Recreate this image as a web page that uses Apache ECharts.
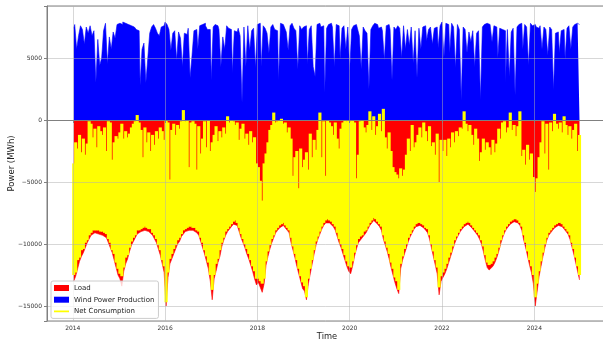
<!DOCTYPE html>
<html><head><meta charset="utf-8">
<script src="https://cdn.jsdelivr.net/npm/echarts@6/dist/echarts.min.js"></script>
<style>html,body{margin:0;padding:0;background:#fff}#c{width:603px;height:347px}</style>
</head><body><div id="c"></div>
<script>
// Time slots: 24 per year (semi-monthly), 2014 .. 2024
const startYear = 2014;
const slotsPerYear = 24;
const seriesNames = ['Load', 'Wind Power Production', 'Net Consumption'];

// Highest wind production per slot (MWh)
const windMax = [
 7400,7700,5700,6800,7600,7300,6100,7500,7000,7600,6800,7200,3000,6500,4400,5000,7200,7800,4500,6700,5700,7100,6600,7700,
 7800,7700,7900,7800,7700,7800,7600,7500,7400,7300,7200,2800,5700,6200,3000,5000,7000,7500,7700,7400,7000,6800,7500,7600,
 7900,7700,7300,5600,7000,7200,4800,7100,6600,4300,7000,6900,7400,3400,5200,7200,7300,5700,7600,7700,7800,7600,7300,7300,
 3200,7500,7700,7600,7300,4300,6700,5700,7600,7400,7300,3800,7200,7100,7400,6800,1400,7500,4300,7600,5600,7200,7400,4200,
 7700,7800,4300,7600,7400,7000,5400,7500,7700,7300,7200,3200,7800,7700,7500,7100,5600,7600,7800,7400,7200,4100,7600,7300,
 7500,7600,4500,7300,7600,4300,3500,7700,7800,7500,7600,2200,7400,7700,7800,7500,4300,7700,7600,4900,7400,7600,5700,7500,
 4000,7300,7600,7700,7400,6800,4100,7500,7200,7000,2500,7300,7600,7800,7700,7400,7500,7200,4800,7600,7700,7300,3200,7500,
 7300,7600,7400,5000,7600,5700,7300,6000,7500,4600,7200,3400,7400,5700,7500,7600,6400,7300,7500,6100,7400,7500,5800,7600,
 7900,5000,7800,7700,5400,7800,7500,4200,7700,7300,1600,7500,7300,5400,7100,6300,7200,4300,7000,7200,1600,7500,7700,7800,
 7700,7800,6300,7600,7500,5000,7400,7300,7200,3000,7300,3500,7100,7400,2000,7500,7700,7800,5700,7700,7500,4400,7800,7600,
 7700,7500,7400,7600,5700,7500,7300,5200,7500,7300,2400,7000,7100,5400,7200,7300,4900,7400,7600,5700,7500,7700,7800,7700
];

// Highest load per slot (MWh), drawn downward
const loadMax = [
 13000,12600,12000,11400,11000,10700,10300,9900,9600,9300,9200,9100,9100,9200,9200,9300,9300,9500,9900,10300,10700,11300,11900,12500,
 12800,13400,12200,11600,11200,10600,10100,9800,9500,9200,9100,9000,8900,8900,8900,9000,9100,9300,9600,9900,10400,10900,11600,12300,
 15000,12700,11600,11200,10800,10400,10000,9800,9400,9200,9000,8900,8900,8800,8900,9000,9100,9300,9800,10300,10800,11400,12000,13000,
 14500,12800,12200,11500,11000,10200,9700,9300,9000,8800,8600,8400,8300,8500,9000,9500,9900,10300,10800,11200,11700,12200,12800,13300,
 13100,13500,13900,13200,11700,11000,10400,9900,9500,9100,8900,8700,8600,8500,8700,8900,9100,9900,10500,11100,11800,12400,13000,13600,
 13800,14500,13200,12400,11600,10800,10100,9600,9200,8800,8500,8300,8200,8300,8400,8600,8900,9400,9900,10300,10800,11300,11800,12200,
 12400,11800,11000,10400,9900,9700,9500,9300,9100,8800,8500,8300,8100,8200,8400,8600,8900,9600,10100,10600,11200,11900,12500,13100,
 13600,14000,12000,11300,10800,10300,9800,9400,9100,8800,8600,8500,8500,8600,8700,8900,9100,9600,10300,11000,11700,12400,14100,13000,
 12700,12400,12000,11500,11000,10500,10000,9600,9300,9000,8800,8600,8500,8400,8500,8700,8900,9100,9300,9600,10000,10600,11300,11900,
 12100,12000,11800,11500,11100,10600,10000,9500,9100,8800,8600,8400,8300,8200,8200,8300,8500,8900,9700,10300,11000,11700,12300,13200,
 15000,13800,12600,11800,11000,10300,9700,9300,9100,8900,8700,8600,8500,8500,8600,8800,9000,9200,9600,10200,10800,11500,12200,12900
];

// Net consumption: top of the yellow band per slot (MWh)
const netHigh = [
 -3500,-1800,-2300,-1200,-2600,-1500,-2800,-1900,-100,-300,-1400,-700,-2200,-500,-900,-1200,-600,-2500,-100,-200,-3200,-1800,-1300,-1500,
 -1000,-300,-1500,-900,-1400,-1100,-600,-300,-100,400,-200,-800,-3000,-600,-1800,-1000,-2500,-1200,-2000,-900,-1500,-600,-900,-1600,
 0,-200,-4800,-800,-300,-1200,-400,-700,-100,800,-100,0,-3800,-200,-100,-300,-4000,-500,-2700,-1500,-100,-2200,0,-2500,
 -1800,-1200,-500,-1700,-900,-1400,-600,-1100,300,-200,0,-100,-400,-200,-1600,-700,-300,-1500,-1100,-2000,-900,-1800,-1400,-3500,
 -3800,-4900,-6500,-3500,-2700,-1800,-800,-400,600,-200,-100,0,100,-300,-200,-1000,-600,-1500,-4500,-3000,-2500,-5500,-2300,-3800,
 -3200,-2600,-4000,-1100,-3000,-1600,-2400,-800,600,-3000,-100,-4500,0,-200,-500,-1200,-200,-1500,-2300,-700,-200,0,-100,0,
 -100,0,-200,-4700,-2800,-100,0,-600,-1000,-400,700,-800,300,-1200,-500,500,-900,900,-1400,-2300,-1000,-2500,-3800,-4200,
 -4400,-4700,-3900,-4500,-4000,-2800,-1500,-2500,-400,-2200,-1800,-1200,-600,-1400,-200,-900,-1700,-500,-2100,-1800,-2800,-1100,-5000,-1600,
 -2500,-1600,-2900,-1500,-2200,-1000,-1800,-900,-1300,-600,-700,700,-300,-900,-400,-1200,-2000,-700,-1500,-3300,-2600,-1500,-2400,-1800,
 -2200,-2800,-1600,-2600,-1900,-700,-1500,-200,-100,-1000,-600,600,-800,-400,-1300,-500,700,-2900,-2400,-3600,-2000,-3200,-2700,-4600,
 -5800,-4700,-3000,-1800,-100,-2700,-300,-4000,-200,-900,500,-300,-700,-200,-1000,300,-400,-1200,-500,-1500,-800,-300,-2500,-1200
];

// Net consumption: bottom of the yellow band per slot (MWh)
const netLow = [
 -12500,-12300,-11300,-11100,-10500,-10400,-9900,-9700,-9300,-9100,-8900,-8900,-8900,-8900,-9000,-9000,-9100,-9200,-9600,-9900,-10500,-10800,-11500,-12000,
 -12400,-12600,-11900,-11100,-10900,-10300,-9800,-9500,-9300,-8900,-8900,-8800,-8700,-8600,-8700,-8800,-8800,-9100,-9300,-9600,-10100,-10500,-11300,-11800,
 -14700,-12300,-11200,-10800,-10400,-10100,-9700,-9500,-9200,-8900,-8800,-8700,-8600,-8600,-8700,-8700,-8900,-9000,-9500,-9900,-10500,-11000,-11500,-12500,
 -13700,-12500,-11600,-11200,-10500,-9900,-9500,-9000,-8800,-8600,-8400,-8200,-8100,-8300,-8700,-9200,-9600,-10000,-10400,-10800,-11300,-11800,-12200,-12800,
 -12800,-13000,-13200,-12800,-11400,-10600,-10100,-9600,-9300,-8900,-8700,-8500,-8400,-8300,-8500,-8700,-8900,-9500,-10200,-10800,-11300,-12000,-12600,-13100,
 -13400,-14300,-12800,-12000,-11300,-10500,-9800,-9400,-9000,-8600,-8300,-8100,-8000,-8100,-8200,-8400,-8600,-9100,-9600,-10000,-10400,-10900,-11400,-11800,
 -11900,-11400,-10700,-10100,-9600,-9400,-9300,-9000,-8900,-8600,-8300,-8100,-7900,-8000,-8200,-8400,-8600,-9300,-9800,-10300,-10800,-11500,-12000,-12700,
 -13000,-13700,-11600,-11000,-10400,-10000,-9500,-9200,-8900,-8600,-8400,-8300,-8300,-8400,-8500,-8700,-8800,-9300,-10000,-10600,-11300,-11900,-13500,-12600,
 -12300,-12000,-11600,-11100,-10700,-10200,-9700,-9400,-9100,-8800,-8600,-8400,-8300,-8200,-8300,-8500,-8700,-8900,-9100,-9300,-9700,-10200,-10900,-11500,
 -11700,-11600,-11400,-11100,-10800,-10300,-9700,-9300,-8900,-8600,-8400,-8200,-8100,-8000,-8000,-8100,-8300,-8600,-9300,-9900,-10600,-11300,-11800,-12500,
 -14300,-13200,-12200,-11400,-10700,-10000,-9500,-9100,-8900,-8700,-8500,-8400,-8300,-8300,-8400,-8600,-8800,-9000,-9300,-9900,-10400,-11100,-11800,-12500
];

const slotWidth = 1 / slotsPerYear;
const slotTime = i => startYear + (i + 0.5) * slotWidth;

const loadData = loadMax.map((v, i) => [slotTime(i), -v]);
const windData = windMax.map((v, i) => [slotTime(i), v]);
const netData = netHigh.map((v, i) => [slotTime(i), v, netLow[i]]);

const FONT = 'DejaVu Sans';
const chart = echarts.init(document.getElementById('c'), null, {renderer: 'canvas'});
chart.setOption({
  animation: false,
  backgroundColor: '#ffffff',
  grid: {left: 47, top: 6, width: 560, height: 315, show: true, borderColor: '#808080', borderWidth: 1,
         containLabel: false, outerBoundsMode: 'none'},
  xAxis: {
    type: 'value', min: 2013.441, max: 2025.575, splitNumber: 5, z: 3,
    name: 'Time', nameLocation: 'middle', nameGap: 12, nameMoveOverlap: false,
    nameTextStyle: {fontFamily: FONT, fontSize: 8.3, color: '#222'},
    axisLine: {show: true, lineStyle: {color: '#808080', width: 1}},
    axisTick: {show: true, length: 3, lineStyle: {color: '#808080'}},
    axisLabel: {fontFamily: FONT, fontSize: 6, color: '#333', margin: 4,
      formatter: v => (Math.abs(v - Math.round(v)) < 1e-6 && Math.round(v) % 2 === 0) ? String(Math.round(v)) : ''},
    splitLine: {show: true, lineStyle: {color: 'rgba(176,176,176,0.5)', width: 1}}
  },
  yAxis: {
    type: 'value', min: -16210, max: 9194, splitNumber: 5, z: 3,
    name: 'Power (MWh)', nameLocation: 'middle', nameGap: 31, nameMoveOverlap: false,
    nameTextStyle: {fontFamily: FONT, fontSize: 8.5, color: '#222'},
    axisLine: {show: true, lineStyle: {color: '#808080', width: 1}},
    axisTick: {show: true, length: 3, lineStyle: {color: '#808080'}},
    axisLabel: {fontFamily: FONT, fontSize: 6, color: '#333', margin: 5,
      formatter: v => (Math.round(v) % 5000 === 0) ? String(Math.round(v)).replace('-', '\u2212') : ''},
    splitLine: {show: true, lineStyle: {color: 'rgba(176,176,176,0.5)', width: 1}}
  },
  legend: {
    orient: 'vertical', left: 51, top: 281,
    padding: [3, 4, 3, 3],
    itemWidth: 15, itemHeight: 6, itemGap: 3.7,
    backgroundColor: 'rgba(255,255,255,0.8)', borderColor: '#cccccc', borderWidth: 1, borderRadius: 2,
    textStyle: {fontFamily: FONT, fontSize: 7, color: '#222', lineHeight: 8},
    data: [
      {name: seriesNames[0], icon: 'rect'},
      {name: seriesNames[1], icon: 'rect'},
      {name: seriesNames[2], icon: 'path://M0,0L0.01,0M0,2.2L15,2.2L15,3.8L0,3.8ZM0,6L0.01,6',
       itemStyle: {color: '#ffff00'}}
    ]
  },
  series: [
    {name: seriesNames[0], type: 'line', data: loadData, symbol: 'none', showSymbol: false, z: 1,
     itemStyle: {color: '#ff0000'}, lineStyle: {width: 0.6, color: '#ff0000'},
     areaStyle: {color: '#ff0000', opacity: 1, origin: 0}},
    {name: seriesNames[1], type: 'line', data: windData, symbol: 'none', showSymbol: false, z: 1, step: 'middle',
     itemStyle: {color: '#0000ff'}, lineStyle: {width: 0.6, color: '#0000ff'},
     areaStyle: {color: '#0000ff', opacity: 1, origin: 0}},
    {name: seriesNames[2], type: 'custom', data: netData, z: 2,
     encode: {x: 0, y: [1, 2]},
     itemStyle: {color: '#ffff00'},
     renderItem: (params, api) => {
       const t = api.value(0);
       const a = api.coord([t - slotWidth / 2, api.value(1)]);
       const b = api.coord([t + slotWidth / 2, api.value(2)]);
       return {type: 'rect',
         shape: {x: a[0] - 0.6, y: a[1], width: b[0] - a[0] + 1.2, height: b[1] - a[1]},
         style: {fill: '#ffff00', stroke: null}};
     }}
  ]
});
</script>
</body></html>
